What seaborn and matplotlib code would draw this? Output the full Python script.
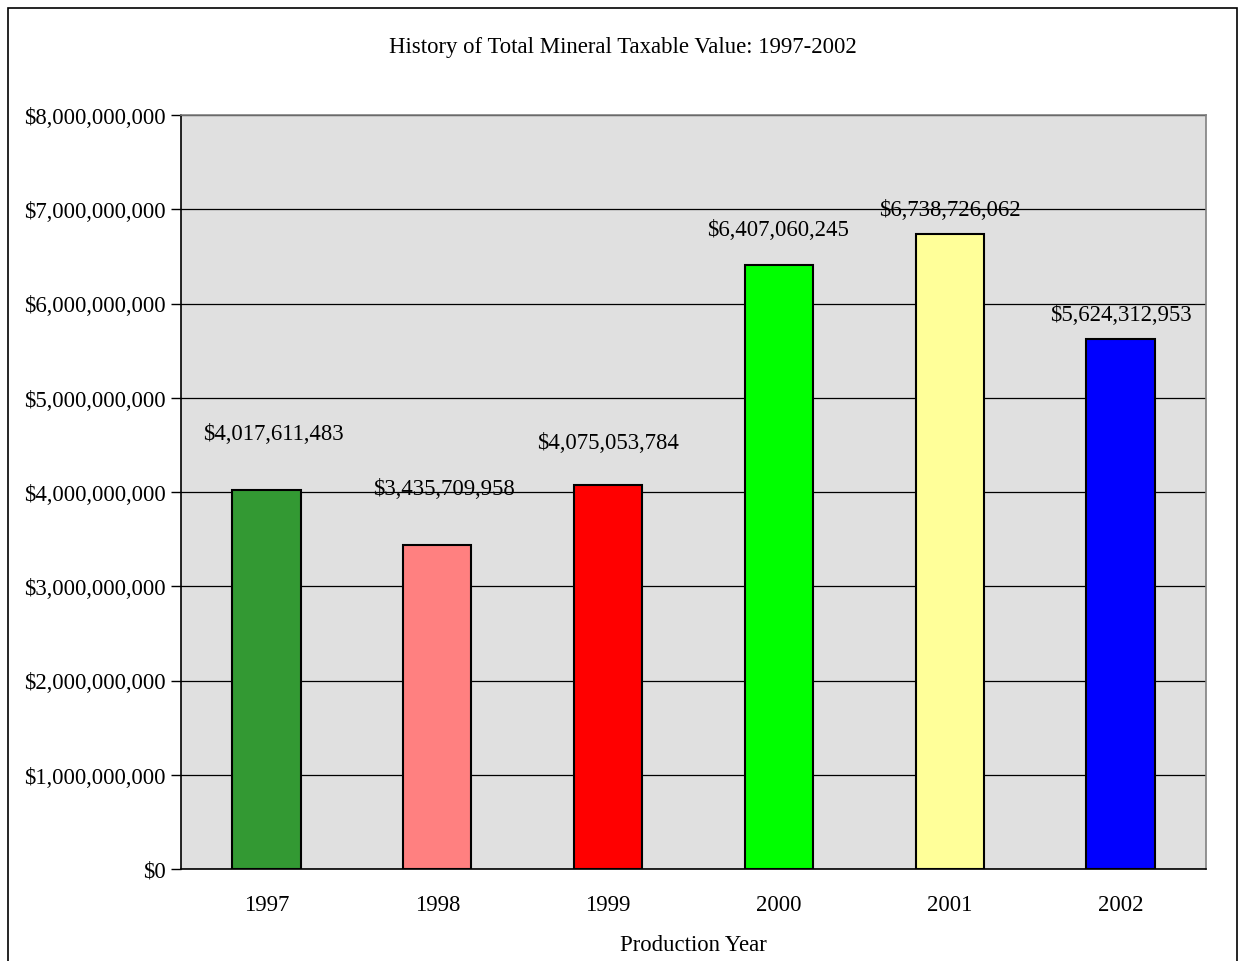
import matplotlib
matplotlib.use("Agg")
import matplotlib.pyplot as plt
import matplotlib.patches as mpatches
from matplotlib.ticker import FuncFormatter, FixedLocator
import seaborn as sns
import pandas as pd

years = ["1997", "1998", "1999", "2000", "2001", "2002"]
values = [4017611483, 3435709958, 4075053784, 6407060245, 6738726062, 5624312953]
bar_colors = ["#339933", "#FF8080", "#FF0000", "#00FF00", "#FFFF99", "#0000FF"]
# label nudges (pixels) to mimic the original label placement
label_dx = [7, 7, 0, -1, 0, 0]
label_dy = [57, 57, 42, 36, 24, 24]

sns.set_theme(style="white")
plt.rcParams["font.family"] = ["Liberation Serif", "DejaVu Serif"]
plt.rcParams["text.color"] = "black"
plt.rcParams["axes.labelcolor"] = "black"
plt.rcParams["xtick.color"] = "black"
plt.rcParams["ytick.color"] = "black"

FS = 16.4

df = pd.DataFrame({"year": years, "value": values})

fig = plt.figure(figsize=(12.41, 9.62), dpi=100)
ax = fig.add_axes([181 / 1241, 92 / 962, 1025 / 1241, 754 / 962])
ax.set_facecolor("#E0E0E0")

sns.barplot(data=df, x="year", y="value", hue="year", palette=bar_colors,
            saturation=1, legend=False, width=0.4, edgecolor="black",
            linewidth=1.5, ax=ax, zorder=3)

ax.set_ylim(0, 8e9)
ax.set_xlim(-0.5, len(years) - 0.5)
ax.yaxis.set_major_locator(FixedLocator([i * 1e9 for i in range(9)]))
ax.yaxis.set_major_formatter(FuncFormatter(lambda v, p: f"${v:,.0f}"))
ax.grid(axis="y", color="black", linewidth=0.9, zorder=1)
ax.set_axisbelow(True)

# category boundary ticks
ax.xaxis.set_minor_locator(FixedLocator([i - 0.5 for i in range(len(years) + 1)]))
ax.tick_params(axis="x", which="major", length=0, labelsize=FS, pad=18)
ax.tick_params(axis="x", which="minor", length=7, width=1, color="black", direction="inout")
ax.tick_params(axis="y", which="major", length=7, width=1, color="black",
               direction="out", labelsize=FS, pad=4, left=True)

for side in ["top", "right"]:
    ax.spines[side].set_color("#808080")
    ax.spines[side].set_linewidth(1.2)
for side in ["left", "bottom"]:
    ax.spines[side].set_color("black")
    ax.spines[side].set_linewidth(1.2)

ax.set_xlabel("Production Year", fontsize=FS, labelpad=14)
ax.set_ylabel("")

for i, v in enumerate(values):
    ax.annotate(f"${v:,.0f}", xy=(i, v), xytext=(label_dx[i], label_dy[i]),
                textcoords="offset pixels", ha="center", va="center",
                fontsize=FS, zorder=4)

fig.text(623 / 1241, 1 - 47 / 962, "History of Total Mineral Taxable Value: 1997-2002",
         ha="center", va="center", fontsize=FS)

frame = mpatches.Rectangle((8 / 1241, -0.05), (1237 - 8) / 1241, 1.05 - 9 / 962,
                           transform=fig.transFigure, fill=False,
                           edgecolor="black", linewidth=1.2, clip_on=False)
fig.patches.append(frame)

fig.savefig("out.png", dpi=100)
